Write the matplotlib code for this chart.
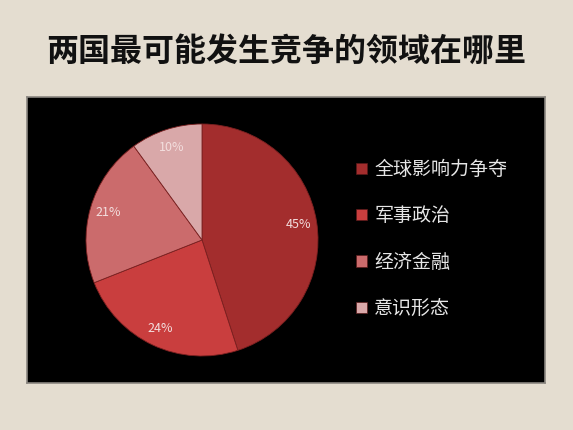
import matplotlib
matplotlib.use("Agg")
import matplotlib.pyplot as plt
from matplotlib.patches import Patch

plt.rcParams['font.family'] = ['Noto Sans CJK SC', 'DejaVu Sans']

title = "两国最可能发生竞争的领域在哪里"
categories = ["全球影响力争夺", "军事政治", "经济金融", "意识形态"]
values = [45, 24, 21, 10]
colors = ["#a32d2d", "#c93e3e", "#cb6b6c", "#d9a8a9"]

W, H = 573, 430
fig = plt.figure(figsize=(W / 100, H / 100), dpi=100)
fig.patch.set_facecolor("#e4ddd0")

# black panel
bg = fig.add_axes([27 / W, 1 - 383 / H, 518 / W, 286 / H], zorder=0)
bg.set_facecolor("black")
bg.set_xticks([])
bg.set_yticks([])
for s in bg.spines.values():
    s.set_color("#8a8680")
    s.set_linewidth(1.2)

fig.text(286.5 / W, 1 - 52 / H, title, ha="center", va="center",
         fontsize=23, fontweight="bold", color="#111111")

ax = fig.add_axes([86 / W, 1 - 356 / H, 232 / W, 232 / H], zorder=2)
ax.set_facecolor("none")
wedges, texts, autotexts = ax.pie(
    values, colors=colors, startangle=90, counterclock=False,
    autopct="%d%%", pctdistance=0.84,
    wedgeprops=dict(edgecolor="#7a2020", linewidth=0.6),
    textprops=dict(color="#f3dede", fontsize=9))
ax.set_xlim(-1, 1)
ax.set_ylim(-1, 1)
ax.set_aspect("equal")
ax.axis("off")

handles = [Patch(facecolor=c, edgecolor="#5a1a1a", linewidth=0.5) for c in colors]
leg = fig.legend(handles, categories, loc="upper left",
                 bbox_to_anchor=(339 / W, 1 - 142 / H),
                 frameon=False, fontsize=13.7, labelspacing=1.33,
                 handlelength=0.55, handleheight=0.55, handletextpad=0.4,
                 labelcolor="#e6e6e6")
leg.set_zorder(3)

fig.savefig("out.png", dpi=100, facecolor=fig.get_facecolor())
